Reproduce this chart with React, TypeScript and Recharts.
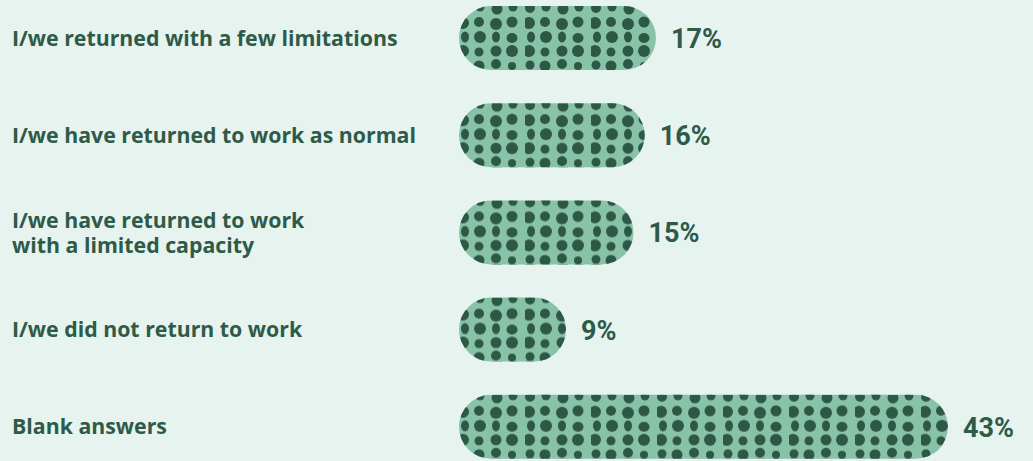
import { BarChart, Bar, XAxis, YAxis, LabelList } from "recharts";

const categories = [
  "I/we returned with a few limitations",
  "I/we have returned to work as normal",
  "I/we have returned to work\nwith a limited capacity",
  "I/we did not return to work",
  "Blank answers",
];
const percentages = [17, 16, 15, 9, 43];

const BG = "#e6f3ee";
const BAR = "#89c3a7";
const DOT = "#2d5747";
const TEXT = "#2e5a48";

// dots of one pattern tile (66 x 64), relative to bar top
const DOTS: [number, number, number, number][] = [
  [5, 2, 5, 5], [21, 1, 4.5, 4.5], [38, 3, 5.5, 5.5], [54, 1, 4.5, 4.5],
  [4, 17, 6, 6], [20, 16, 5, 5], [37, 18, 6, 6], [53, 16, 5.5, 5.5],
  [6, 31, 4, 5.5], [21, 31, 6, 6], [37, 31, 4, 5.5], [53, 32, 5.5, 5],
  [4, 45, 6, 6], [20, 46, 4.5, 4.5], [37, 45, 5.5, 5.5], [53, 45, 6, 6],
  [5, 59, 4.5, 4.5], [20, 60, 5.5, 5.5], [37, 58, 5, 5], [53, 60, 4, 4],
];

const data = categories.map((name, i) => ({ name, value: percentages[i] }));

const PillBar = (props: any) => {
  const { x, y, width, height, index } = props;
  const left = x - 6;
  const w = width + 6;
  const id = `dots-${index}`;
  return (
    <g>
      <defs>
        <pattern id={id} patternUnits="userSpaceOnUse" x={left} y={y} width={66} height={64}>
          {DOTS.map(([cx, cy, rx, ry], k) => (
            <ellipse key={k} cx={cx} cy={cy} rx={rx} ry={ry} fill={DOT} />
          ))}
        </pattern>
      </defs>
      <rect x={left} y={y} width={w} height={height} rx={height / 2} fill={BAR} />
      <rect x={left} y={y} width={w} height={height} rx={height / 2} fill={`url(#${id})`} />
    </g>
  );
};

const CategoryTick = (props: any) => {
  const { y, payload } = props;
  const lines = String(payload.value).split("\n");
  const first = lines.length > 1 ? y - 4.5 : y + 8;
  return (
    <g>
      {lines.map((l, i) => (
        <text
          key={i}
          x={12}
          y={first + i * 25.5}
          fill={TEXT}
          fontSize={21.3}
          fontWeight={700}
          fontFamily="'Open Sans', sans-serif"
        >
          {l}
        </text>
      ))}
    </g>
  );
};

const ValueLabel = (props: any) => {
  const { x, y, width, height, value } = props;
  return (
    <text
      x={x + width + 15}
      y={y + height / 2 + 10}
      fill={TEXT}
      fontSize={27}
      fontWeight={700}
      fontFamily="Roboto, sans-serif"
    >
      {value}%
    </text>
  );
};

export default function App() {
  return (
    <div style={{ position: "absolute", left: 0, top: 0, width: 1033, height: 461, background: BG, overflow: "hidden" }}>
      <div style={{ position: "absolute", left: 0, top: -11 }}>
        <BarChart
          width={1033}
          height={486}
          data={data}
          layout="vertical"
          margin={{ top: 0, right: 85, bottom: 0, left: 0 }}
        >
          <XAxis type="number" domain={[0, 43]} hide />
          <YAxis
            type="category"
            dataKey="name"
            width={465}
            axisLine={false}
            tickLine={false}
            tick={<CategoryTick />}
            interval={0}
          />
          <Bar dataKey="value" barSize={64} shape={<PillBar />} isAnimationActive={false}>
            <LabelList dataKey="value" content={<ValueLabel />} />
          </Bar>
        </BarChart>
      </div>
    </div>
  );
}
